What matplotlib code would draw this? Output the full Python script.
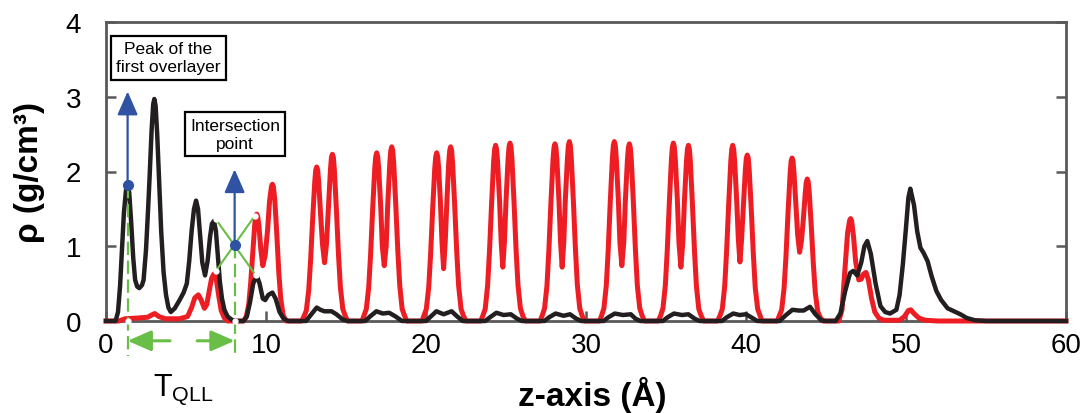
import matplotlib
matplotlib.use("Agg")
import matplotlib.pyplot as plt

plt.rcParams['font.family'] = ['Liberation Sans', 'DejaVu Sans']
plt.rcParams['mathtext.fontset'] = 'custom'
plt.rcParams['mathtext.rm'] = 'Liberation Sans'

# density profiles, (z in Angstrom, rho in g/cm3)
red_pts = [
    (0.0, 0.0), (0.8, 0.0), (1.2, 0.03), (2.0, 0.04), (2.6, 0.05), (2.85, 0.08), (3.05, 0.10),
    (3.3, 0.06), (3.7, 0.03), (4.6, 0.03), (5.1, 0.06), (5.35, 0.18), (5.55, 0.31), (5.77, 0.35),
    (5.95, 0.28), (6.15, 0.17), (6.3, 0.22), (6.45, 0.40), (6.6, 0.57), (6.75, 0.63), (6.9, 0.55),
    (7.05, 0.33), (7.2, 0.14), (7.4, 0.04), (7.6, 0.0), (8.6, 0.0), (8.77, 0.06), (8.92, 0.22),
    (9.04, 0.5), (9.17, 0.9), (9.3, 1.3), (9.36, 1.40), (9.42, 1.43), (9.48, 1.40), (9.56, 1.27),
    (9.67, 0.97), (9.8, 0.74), (9.95, 0.88), (10.1, 1.22), (10.22, 1.6), (10.34, 1.80),
    (10.4, 1.83), (10.46, 1.80), (10.55, 1.62), (10.67, 1.18), (10.8, 0.65), (10.92, 0.3),
    (11.07, 0.08), (11.25, 0.0),
    # bilayer 13-14
    (12.22, 0.0), (12.37, 0.06), (12.52, 0.14), (12.67, 0.41), (12.79, 0.82), (12.92, 1.38),
    (13.05, 1.87), (13.11, 2.02), (13.17, 2.06), (13.23, 2.02), (13.29, 1.87), (13.42, 1.40),
    (13.53, 1.03), (13.66, 0.78), (13.78, 1.03), (13.90, 1.52), (14.03, 2.03), (14.09, 2.19),
    (14.15, 2.23), (14.21, 2.19), (14.27, 2.03), (14.40, 1.49), (14.53, 0.89), (14.65, 0.45),
    (14.80, 0.16), (14.95, 0.07), (15.10, 0.0),
    # bilayer 17-18
    (16.0, 0.0), (16.12, 0.07), (16.27, 0.16), (16.42, 0.45), (16.54, 0.9), (16.67, 1.51),
    (16.80, 2.05), (16.86, 2.2), (16.92, 2.25), (16.98, 2.2), (17.04, 2.05), (17.17, 1.53),
    (17.27, 1.0), (17.39, 0.74), (17.51, 1.0), (17.61, 1.56), (17.74, 2.12), (17.80, 2.28),
    (17.86, 2.33), (17.92, 2.28), (17.98, 2.12), (18.11, 1.56), (18.24, 0.93), (18.36, 0.47),
    (18.51, 0.16), (18.66, 0.07), (18.8, 0.0),
    # bilayer 21
    (19.75, 0.0), (19.87, 0.07), (20.02, 0.16), (20.17, 0.45), (20.29, 0.9), (20.42, 1.51),
    (20.55, 2.05), (20.61, 2.2), (20.67, 2.25), (20.73, 2.2), (20.79, 2.05), (20.90, 1.6),
    (21.0, 1.05), (21.1, 0.70), (21.2, 1.05), (21.31, 1.62), (21.42, 2.12), (21.48, 2.28),
    (21.54, 2.33), (21.60, 2.28), (21.66, 2.12), (21.79, 1.56), (21.92, 0.93), (22.04, 0.47),
    (22.19, 0.16), (22.34, 0.07), (22.5, 0.0),
    # bilayer 24-25
    (23.42, 0.0), (23.55, 0.07), (23.70, 0.16), (23.85, 0.47), (23.97, 0.94), (24.10, 1.57),
    (24.23, 2.14), (24.29, 2.3), (24.35, 2.35), (24.41, 2.3), (24.47, 2.14), (24.6, 1.6),
    (24.7, 1.05), (24.8, 0.72), (24.9, 1.05), (25.0, 1.6), (25.13, 2.17), (25.19, 2.33),
    (25.25, 2.38), (25.31, 2.33), (25.37, 2.17), (25.50, 1.6), (25.63, 0.95), (25.75, 0.48),
    (25.90, 0.17), (26.05, 0.07), (26.2, 0.0),
    # bilayer 28-29
    (27.13, 0.0), (27.26, 0.07), (27.41, 0.17), (27.56, 0.47), (27.68, 0.95), (27.81, 1.59),
    (27.94, 2.16), (28.00, 2.32), (28.06, 2.37), (28.12, 2.32), (28.18, 2.16), (28.31, 1.61),
    (28.41, 1.05), (28.51, 0.72), (28.61, 1.05), (28.71, 1.63), (28.84, 2.18), (28.90, 2.35),
    (28.96, 2.40), (29.02, 2.35), (29.08, 2.18), (29.21, 1.61), (29.34, 0.96), (29.46, 0.48),
    (29.61, 0.17), (29.76, 0.07), (29.9, 0.0),
    # bilayer 32-33
    (30.85, 0.0), (30.97, 0.07), (31.12, 0.17), (31.27, 0.48), (31.39, 0.96), (31.52, 1.61),
    (31.65, 2.18), (31.71, 2.35), (31.77, 2.40), (31.83, 2.35), (31.89, 2.18), (32.02, 1.63),
    (32.12, 1.05), (32.24, 0.74), (32.36, 1.05), (32.46, 1.61), (32.59, 2.16), (32.65, 2.32),
    (32.71, 2.37), (32.77, 2.32), (32.83, 2.16), (32.96, 1.59), (33.09, 0.95), (33.21, 0.47),
    (33.36, 0.17), (33.51, 0.07), (33.65, 0.0),
    # bilayer 35-36
    (34.52, 0.0), (34.66, 0.07), (34.81, 0.17), (34.96, 0.48), (35.08, 0.95), (35.21, 1.59),
    (35.34, 2.17), (35.40, 2.33), (35.46, 2.38), (35.52, 2.33), (35.58, 2.17), (35.71, 1.62),
    (35.81, 1.05), (35.93, 0.72), (36.05, 1.05), (36.15, 1.6), (36.28, 2.14), (36.34, 2.3),
    (36.40, 2.35), (36.46, 2.3), (36.52, 2.14), (36.65, 1.57), (36.78, 0.94), (36.90, 0.47),
    (37.05, 0.16), (37.20, 0.07), (37.35, 0.0),
    # bilayer 39-40
    (38.22, 0.0), (38.37, 0.07), (38.52, 0.16), (38.67, 0.47), (38.79, 0.94), (38.92, 1.57),
    (39.05, 2.14), (39.11, 2.3), (39.17, 2.35), (39.23, 2.3), (39.29, 2.14), (39.42, 1.6),
    (39.52, 1.1), (39.62, 0.79), (39.72, 1.08), (39.83, 1.5), (39.96, 2.02), (40.02, 2.18),
    (40.08, 2.22), (40.14, 2.18), (40.20, 2.02), (40.33, 1.49), (40.46, 0.89), (40.58, 0.44),
    (40.73, 0.16), (40.88, 0.07), (41.0, 0.0),
    # bilayer 43-44
    (41.95, 0.0), (42.08, 0.07), (42.23, 0.15), (42.38, 0.44), (42.50, 0.87), (42.63, 1.46),
    (42.76, 1.98), (42.82, 2.14), (42.88, 2.18), (42.94, 2.14), (43.00, 1.98), (43.13, 1.5),
    (43.23, 1.15), (43.35, 0.92), (43.47, 1.08), (43.58, 1.35), (43.71, 1.73), (43.77, 1.86),
    (43.83, 1.90), (43.89, 1.86), (43.95, 1.73), (44.08, 1.27), (44.21, 0.76), (44.33, 0.38),
    (44.48, 0.13), (44.63, 0.05), (44.8, 0.0),
    # top surface
    (45.8, 0.0), (46.0, 0.15), (46.2, 0.75), (46.35, 1.18), (46.48, 1.35), (46.54, 1.37),
    (46.6, 1.34), (46.72, 1.13), (46.85, 0.8), (47.05, 0.55), (47.2, 0.56), (47.35, 0.63),
    (47.5, 0.65), (47.65, 0.55), (47.85, 0.3), (48.05, 0.12), (48.3, 0.04), (48.6, 0.01),
    (49.6, 0.01), (49.9, 0.06), (50.15, 0.14), (50.3, 0.15), (50.5, 0.1), (50.8, 0.04),
    (51.2, 0.01), (52.0, 0.0), (60.0, 0.0),
]

black_pts = [
    (0.0, 0.0), (0.6, 0.0), (0.75, 0.12), (0.88, 0.47), (1.0, 0.95), (1.12, 1.45), (1.25, 1.75),
    (1.35, 1.82), (1.45, 1.72), (1.58, 1.3), (1.7, 0.85), (1.82, 0.55), (1.95, 0.46), (2.08, 0.44),
    (2.25, 0.48), (2.35, 0.55), (2.5, 0.95), (2.62, 1.45), (2.72, 1.9), (2.85, 2.55), (2.95, 2.9),
    (3.02, 2.97), (3.1, 2.88), (3.2, 2.5), (3.33, 1.84), (3.45, 1.2), (3.6, 0.65), (3.75, 0.35),
    (3.9, 0.18), (4.05, 0.12), (4.3, 0.17), (4.6, 0.28), (4.85, 0.38), (5.05, 0.5), (5.2, 0.8),
    (5.35, 1.2), (5.5, 1.5), (5.63, 1.61), (5.75, 1.5), (5.88, 1.15), (6.02, 0.78), (6.19, 0.61),
    (6.35, 0.8), (6.5, 1.12), (6.62, 1.3), (6.75, 1.34), (6.87, 1.2), (7.0, 0.85), (7.12, 0.52),
    (7.25, 0.3), (7.4, 0.15), (7.6, 0.06), (7.9, 0.01), (8.2, 0.0), (8.6, 0.0), (8.8, 0.06),
    (9.0, 0.25), (9.2, 0.5), (9.42, 0.61), (9.6, 0.5), (9.8, 0.3), (9.95, 0.28), (10.15, 0.35),
    (10.4, 0.38), (10.6, 0.3), (10.85, 0.12), (11.1, 0.03), (11.4, 0.0),
    (12.5, 0.0), (12.8, 0.08), (13.17, 0.18), (13.4, 0.15), (13.65, 0.13), (14.1, 0.13),
    (14.4, 0.09), (14.8, 0.02), (15.1, 0.0), (16.2, 0.0), (16.5, 0.06), (16.9, 0.13),
    (17.3, 0.10), (17.7, 0.11), (18.1, 0.06), (18.5, 0.0), (20.0, 0.0), (20.3, 0.06),
    (20.65, 0.13), (21.1, 0.09), (21.6, 0.13), (21.95, 0.06), (22.3, 0.0), (23.7, 0.0),
    (24.0, 0.05), (24.4, 0.11), (24.85, 0.08), (25.3, 0.09), (25.7, 0.03), (26.0, 0.0),
    (27.4, 0.0), (27.7, 0.05), (28.1, 0.10), (28.6, 0.07), (29.0, 0.09), (29.4, 0.03),
    (29.7, 0.0), (31.1, 0.0), (31.4, 0.05), (31.8, 0.10), (32.3, 0.08), (32.8, 0.09),
    (33.1, 0.03), (33.4, 0.0), (34.8, 0.0), (35.1, 0.05), (35.5, 0.10), (36.0, 0.08),
    (36.4, 0.09), (36.8, 0.03), (37.1, 0.0), (38.5, 0.0), (38.8, 0.05), (39.2, 0.10),
    (39.6, 0.08), (40.0, 0.09), (40.4, 0.04), (40.7, 0.0), (42.1, 0.0), (42.5, 0.08),
    (42.9, 0.15), (43.3, 0.14), (43.6, 0.14), (44.0, 0.19), (44.3, 0.10), (44.7, 0.01),
    (45.0, 0.0), (45.6, 0.0), (45.9, 0.1), (46.2, 0.4), (46.5, 0.64), (46.7, 0.67),
    (46.95, 0.61), (47.2, 0.78), (47.4, 1.0), (47.58, 1.07), (47.8, 0.9), (48.1, 0.5),
    (48.4, 0.2), (48.7, 0.12), (49.0, 0.10), (49.4, 0.15), (49.6, 0.35), (49.8, 0.75),
    (50.0, 1.25), (50.15, 1.65), (50.27, 1.77), (50.5, 1.55), (50.7, 1.2), (50.9, 0.98),
    (51.1, 0.91), (51.35, 0.8), (51.6, 0.6), (51.9, 0.4), (52.2, 0.28), (52.6, 0.17),
    (53.0, 0.13), (53.4, 0.09), (53.8, 0.04), (54.3, 0.01), (55.0, 0.0), (60.0, 0.0),
]

x_ticks = [0, 10, 20, 30, 40, 50, 60]
y_ticks = [0, 1, 2, 3, 4]

# annotation anchors
peak_z, peak_rho, peak_top = 1.35, 1.82, 3.07
black_line = [(6.87, 1.36), (9.37, 0.61)]
red_line = [(6.87, 0.67), (9.31, 1.41)]
cross_z, cross_rho, cross_top = 8.04, 1.02, 2.03
arrow_y, dash_bottom = -0.265, -0.47

RED = '#ee1d24'
BLACK = '#231f20'
GREEN = '#69be47'
BLUE = '#2f52a3'
GRAY = '#595959'

fig = plt.figure(figsize=(10.87, 4.14), dpi=100)
ax = fig.add_axes([106 / 1087, 92 / 414, 960 / 1087, 299 / 414])

rz, rr = zip(*red_pts)
bz, br = zip(*black_pts)
ax.plot(rz, rr, color=RED, lw=3.6, solid_joinstyle='round', clip_on=False, zorder=3)
ax.plot(bz, br, color=BLACK, lw=3.2, solid_joinstyle='round', clip_on=False, zorder=4)

ax.set_xlim(0, 60)
ax.set_ylim(0, 4)
ax.set_xticks(x_ticks)
ax.set_yticks(y_ticks)
for s in ax.spines.values():
    s.set_color(GRAY)
    s.set_linewidth(2.0)
ax.tick_params(axis='x', direction='in', length=7, width=1.8, color=GRAY, labelsize=20, pad=8)
ax.tick_params(axis='y', direction='in', length=7, width=1.8, color=GRAY, labelsize=20, pad=18,
               right=True)

ax.set_xlabel('z-axis (Å)', fontsize=24, fontweight='bold')
ax.xaxis.set_label_coords(0.507, -0.185)
ax.set_ylabel('ρ (g/cm³)', fontsize=24, fontweight='bold')
ax.yaxis.set_label_coords(-0.064, 0.5)

# green guides
ax.plot([peak_z, peak_z], [peak_rho, dash_bottom], color=GREEN, lw=1.6, ls=(0, (6, 2.5)),
        clip_on=False, zorder=5)
ax.plot([cross_z, cross_z], [cross_rho, dash_bottom], color=GREEN, lw=1.6, ls=(0, (6, 2.5)),
        clip_on=False, zorder=5)
ax.plot(*zip(*black_line), color=GREEN, lw=1.5, zorder=5)
ax.plot(*zip(*red_line), color=GREEN, lw=1.5, zorder=5)
ends = black_line + red_line + [(peak_z, 0), (cross_z, 0)]
ax.plot(*zip(*ends), ls='none', marker='o', ms=3.5, color='white', mec='white', zorder=6,
        clip_on=False)

head = '-|>,head_length=0.8,head_width=0.35'
ax.annotate('', xy=(peak_z, arrow_y), xytext=(4.0, arrow_y), annotation_clip=False,
            arrowprops=dict(arrowstyle=head, color=GREEN, lw=2.2, mutation_scale=18,
                            shrinkA=0, shrinkB=0))
ax.annotate('', xy=(cross_z, arrow_y), xytext=(5.7, arrow_y), annotation_clip=False,
            arrowprops=dict(arrowstyle=head, color=GREEN, lw=2.2, mutation_scale=18,
                            shrinkA=0, shrinkB=0))
ax.text(4.8, -0.9, r'T$_{\mathregular{QLL}}$', fontsize=22, ha='center', va='center')

# blue arrows and dots
for z0, r0, r1 in [(peak_z, peak_rho, peak_top), (cross_z, cross_rho, cross_top)]:
    ax.annotate('', xy=(z0, r1), xytext=(z0, r0), zorder=7,
                arrowprops=dict(arrowstyle=head, color=BLUE, lw=1.6, mutation_scale=18,
                                shrinkA=0, shrinkB=0))
    ax.plot([z0], [r0], marker='o', ms=7, color=BLUE, zorder=8)

box = dict(boxstyle='square,pad=0.3', fc='white', ec='black', lw=1.6)
ax.text(3.9, 3.52, 'Peak of the\nfirst overlayer', fontsize=12.5, ha='center', va='center',
        linespacing=1.25, bbox=box, zorder=9)
ax.text(8.07, 2.50, 'Intersection\npoint', fontsize=12.5, ha='center', va='center',
        linespacing=1.25, bbox=box, zorder=9)

fig.savefig('out.png', dpi=100)
